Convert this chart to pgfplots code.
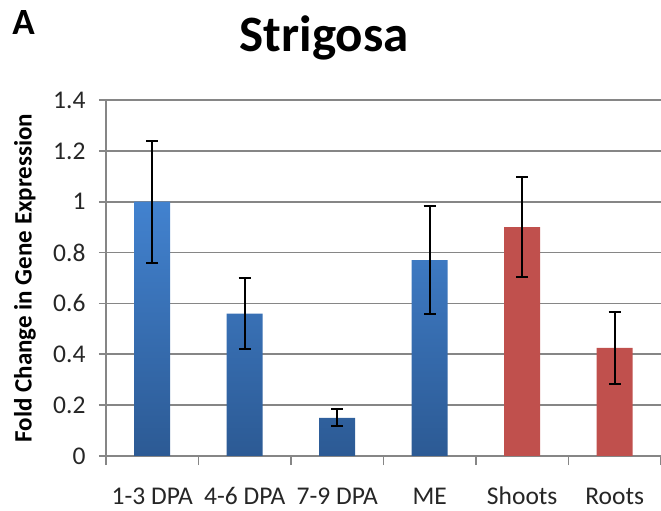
\documentclass[border=0pt]{standalone}
\usepackage{pgfplots}
\pgfplotsset{compat=1.18}
\usepackage{fontspec}
\setmainfont{Carlito}

\definecolor{gridgray}{RGB}{134,134,134}
\definecolor{bartop}{RGB}{66,130,207}
\definecolor{barbot}{RGB}{44,90,148}
\definecolor{barred}{RGB}{192,80,77}

\begin{document}
\begin{tikzpicture}
\useasboundingbox (-106pt,-55pt) rectangle (555pt,456pt);
\begin{axis}[
    at={(0pt,0pt)}, anchor=south west,
    scale only axis,
    width=555pt, height=356pt,
    ymin=0, ymax=1.4,
    xmin=-0.5, xmax=5.5,
    ytick={0,0.2,...,1.4},
    yticklabels={0,0.2,0.4,0.6,0.8,1,1.2,1.4},
    xtick={0,...,5},
    xticklabels={1-3 DPA,4-6 DPA,7-9 DPA,ME,Shoots,Roots},
    minor xtick={-0.5,0.5,...,5.5},
    major x tick style={draw=none},
    minor tick length=9pt,
    major tick length=7pt,
    tick align=outside,
    axis lines*=left,
    axis line style={gridgray, line width=1.6pt},
    tick style={gridgray, line width=1.6pt},
    ymajorgrids,
    grid style={gridgray, line width=1.6pt},
    /pgf/number format/assume math mode=true,
    tick label style={font=\fontsize{25.5}{30}\selectfont, text=black!85},
    xticklabel style={anchor=base, yshift=-41pt},
    yticklabel style={xshift=-10pt},
    ylabel={\textbf{Fold Change in Gene Expression}},
    ylabel style={at={(axis description cs:-0.146,0.5)}, anchor=center,
        font=\fontsize{25}{28}\selectfont},
    title={\textbf{Strigosa}},
    title style={at={(axis description cs:0.393,1.118)}, anchor=base,
        font=\fontsize{51}{56}\selectfont},
    bar width=36pt,
    error bars/y dir=both,
    error bars/y explicit,
    error bars/error bar style={black, line width=2pt},
    error bars/error mark options={black, rotate=90, mark size=6pt, line width=2pt},
    after end axis/.code={
        \node[font=\bfseries\fontsize{37}{40}\selectfont, anchor=base west, inner sep=0pt]
            at (axis description cs:-0.169,1.183) {A};
    },
]
\addplot[ybar, bar shift=0pt, draw=none, top color=bartop, bottom color=barbot]
    coordinates {(0,1.00) +- (0,0.24) (1,0.56) +- (0,0.139) (2,0.15) +- (0,0.033) (3,0.77) +- (0,0.213)};
\addplot[ybar, bar shift=0pt, draw=none, fill=barred]
    coordinates {(4,0.90) +- (0,0.197) (5,0.425) +- (0,0.141)};
\end{axis}
\end{tikzpicture}
\end{document}
